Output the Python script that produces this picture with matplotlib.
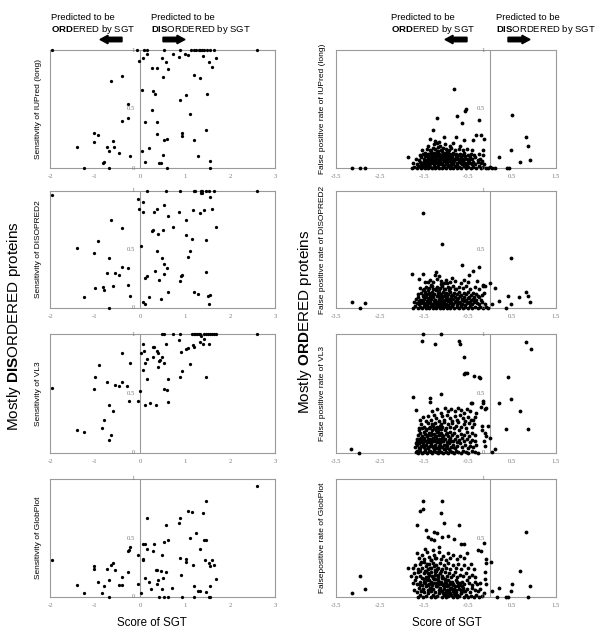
import matplotlib
matplotlib.use("Agg")
import matplotlib.pyplot as plt
from matplotlib.patches import FancyArrow

plt.rcParams['font.family'] = ['Liberation Sans', 'DejaVu Sans']
plt.rcParams['mathtext.fontset'] = 'custom'
plt.rcParams['mathtext.rm'] = 'Liberation Sans'
plt.rcParams['mathtext.bf'] = 'Liberation Sans:bold'

# ---------------- data ----------------
left_xticks = [-2, -1, 0, 1, 2, 3]
right_xticks = [-3.5, -2.5, -1.5, -0.5, 0.5, 1.5]
ytick_vals = [0, 0.5, 1]
ytick_labels = ['0', '0.5', '1']

left_ylabels = ['Sensitivity of IUPred (long)', 'Sensitivity of DISOPRED2',
                'Sensitivity of VL3', 'Sensitivity of GlobPlot']
right_ylabels = ['False positive rate of IUPred (long)', 'False positive rate of DISOPRED2',
                 'False positive rate of VL3', 'Falsepositive rate of GlobPlot']

# Mostly disordered proteins: (SGT score, sensitivity)
iupred_sens = [
    (-1.96, 1.0), (-0.06, 1.0), (0.09, 1.0), (0.16, 1.0), (0.54, 1.0), (0.89, 1.0), (1.14, 1.0),
    (1.19, 1.0), (1.25, 1.0), (1.30, 1.0), (1.34, 1.0), (1.38, 1.0), (1.43, 1.0), (1.49, 1.0),
    (1.55, 1.0), (1.65, 1.0), (2.60, 1.0), (0.16, 0.97), (0.73, 0.97), (1.01, 0.97), (1.06, 0.96),
    (0.07, 0.93), (0.49, 0.93), (0.57, 0.90), (-0.02, 0.91), (0.87, 0.94), (1.39, 0.95), (1.69, 0.93),
    (1.54, 0.90), (1.60, 0.86), (0.26, 0.85), (0.37, 0.85), (0.63, 0.84), (-0.41, 0.78), (-0.65, 0.74),
    (0.50, 0.77), (1.19, 0.79), (1.34, 0.76), (0.04, 0.66), (0.28, 0.65), (0.34, 0.63), (1.02, 0.62),
    (1.48, 0.63), (0.89, 0.58), (-0.27, 0.54), (0.27, 0.49), (1.10, 0.46), (-0.26, 0.42), (-0.41, 0.40),
    (0.10, 0.39), (0.38, 0.39), (-1.03, 0.30), (-0.94, 0.28), (0.37, 0.29), (0.93, 0.30), (0.93, 0.27),
    (1.46, 0.32), (-1.02, 0.22), (-0.61, 0.23), (0.54, 0.24), (0.59, 0.25), (1.20, 0.24), (-1.40, 0.18),
    (-0.74, 0.18), (-0.57, 0.18), (0.21, 0.17), (-0.70, 0.14), (-0.47, 0.13), (0.05, 0.14), (-0.23, 0.10),
    (0.52, 0.11), (1.28, 0.10), (-0.82, 0.04), (-0.79, 0.05), (0.11, 0.05), (0.43, 0.04), (0.47, 0.04),
    (1.55, 0.06), (-1.24, 0.0), (-0.70, 0.0), (0.61, 0.0), (1.55, 0.0)]

disopred_sens = [
    (-1.96, 0.97), (0.15, 1.0), (0.58, 1.0), (0.89, 1.0), (1.20, 1.0), (1.23, 1.0), (1.35, 1.0),
    (1.38, 1.0), (1.47, 1.0), (1.53, 1.0), (1.65, 1.0), (2.61, 1.0), (1.35, 0.98), (1.38, 0.98),
    (-0.04, 0.93), (0.07, 0.91), (0.54, 0.88), (1.55, 0.95), (-0.03, 0.85), (0.07, 0.82), (0.30, 0.82),
    (0.38, 0.85), (0.86, 0.82), (1.18, 0.84), (1.34, 0.81), (1.42, 0.84), (1.59, 0.85), (0.63, 0.79),
    (1.02, 0.75), (-0.64, 0.75), (-0.40, 0.68), (0.26, 0.66), (0.28, 0.67), (0.39, 0.63), (0.50, 0.67),
    (0.73, 0.69), (1.68, 0.69), (1.02, 0.62), (1.15, 0.59), (1.47, 0.58), (-0.94, 0.57), (-1.41, 0.51),
    (0.03, 0.53), (0.38, 0.49), (1.10, 0.49), (-1.03, 0.47), (1.07, 0.44), (0.49, 0.43), (-0.70, 0.43),
    (0.53, 0.38), (0.59, 0.34), (0.34, 0.32), (-0.41, 0.35), (-0.26, 0.34), (-0.73, 0.30), (-0.56, 0.30),
    (-0.47, 0.28), (1.46, 0.31), (0.93, 0.28), (0.91, 0.27), (0.54, 0.29), (0.15, 0.27), (0.12, 0.26),
    (0.42, 0.24), (0.89, 0.23), (-0.27, 0.20), (-0.59, 0.19), (-1.01, 0.17), (-0.83, 0.18), (-0.79, 0.15),
    (0.62, 0.14), (1.21, 0.14), (1.28, 0.12), (1.55, 0.11), (1.52, 0.10), (-1.25, 0.09), (-0.22, 0.10),
    (0.20, 0.09), (0.46, 0.08), (0.07, 0.05), (0.10, 0.03), (-0.70, 0.0), (1.54, 0.03)]

vl3_sens = [
    (-1.95, 0.55), (0.48, 1.0), (0.54, 1.0), (0.73, 1.0), (0.89, 1.0), (1.15, 1.0), (1.19, 1.0),
    (1.23, 1.0), (1.26, 1.0), (1.30, 1.0), (1.34, 1.0), (1.43, 1.0), (1.47, 1.0), (1.52, 1.0),
    (1.56, 1.0), (1.60, 1.0), (1.65, 1.0), (1.69, 1.0), (2.61, 1.0), (1.36, 0.98), (1.43, 0.96),
    (0.87, 0.95), (0.06, 0.92), (0.57, 0.92), (1.17, 0.91), (1.34, 0.93), (1.39, 0.92), (1.54, 0.92),
    (0.09, 0.86), (0.28, 0.89), (0.30, 0.89), (0.37, 0.86), (1.21, 0.89), (1.02, 0.87), (1.06, 0.88),
    (0.92, 0.85), (0.03, 0.84), (-0.41, 0.84), (0.39, 0.84), (0.28, 0.81), (0.48, 0.81), (0.16, 0.79),
    (0.12, 0.76), (0.45, 0.78), (0.42, 0.77), (0.54, 0.76), (-0.23, 0.76), (-0.92, 0.74), (1.10, 0.75),
    (0.39, 0.72), (0.07, 0.70), (0.94, 0.69), (-1.00, 0.64), (0.16, 0.62), (0.62, 0.62), (0.89, 0.64),
    (1.46, 0.64), (-0.73, 0.60), (-0.41, 0.60), (-0.55, 0.57), (-0.47, 0.56), (-0.28, 0.56), (-1.03, 0.54),
    (0.54, 0.54), (0.59, 0.53), (-0.01, 0.52), (-0.05, 0.44), (-0.25, 0.44), (0.63, 0.43), (0.10, 0.40),
    (0.22, 0.42), (0.36, 0.40), (-0.70, 0.40), (-0.60, 0.35), (-0.80, 0.28), (-0.84, 0.21), (-1.40, 0.19),
    (-1.24, 0.18), (-0.64, 0.15), (-0.70, 0.11)]

globplot_sens = [
    (-1.95, 0.31), (2.61, 0.94), (1.46, 0.81), (1.07, 0.73), (1.15, 0.72), (1.39, 0.71), (0.15, 0.67),
    (0.89, 0.67), (0.86, 0.63), (0.57, 0.61), (1.25, 0.54), (1.10, 0.50), (0.63, 0.48), (0.54, 0.47),
    (1.42, 0.48), (1.47, 0.48), (0.07, 0.45), (0.12, 0.45), (0.30, 0.45), (1.33, 0.41), (-0.22, 0.42),
    (-0.25, 0.40), (-0.27, 0.39), (0.15, 0.41), (0.28, 0.39), (-0.04, 0.36), (0.49, 0.36), (0.07, 0.32),
    (0.07, 0.31), (0.89, 0.33), (1.02, 0.32), (1.02, 0.30), (1.44, 0.31), (1.59, 0.31), (1.54, 0.29),
    (1.64, 0.27), (1.55, 0.26), (1.17, 0.27), (-0.61, 0.29), (-0.64, 0.27), (-1.02, 0.26), (-1.03, 0.24),
    (-0.73, 0.24), (-0.56, 0.23), (0.35, 0.23), (0.38, 0.23), (0.47, 0.22), (-0.26, 0.21), (0.58, 0.21),
    (0.91, 0.19), (-0.41, 0.17), (0.10, 0.16), (0.52, 0.16), (0.39, 0.14), (1.68, 0.15), (-0.93, 0.13),
    (-0.70, 0.14), (0.21, 0.13), (0.37, 0.11), (-0.04, 0.11), (-1.40, 0.10), (-0.47, 0.10), (-0.41, 0.10),
    (-0.81, 0.09), (1.21, 0.09), (1.55, 0.09), (0.25, 0.07), (0.49, 0.07), (0.72, 0.08), (1.28, 0.05),
    (1.34, 0.05), (1.46, 0.04), (-1.24, 0.03), (-0.84, 0.03), (0.03, 0.03), (-0.70, 0.0), (0.42, 0.0),
    (0.54, 0.0), (0.62, 0.0), (0.94, 0.0), (1.21, 0.0), (1.54, 0.0), (1.56, 0.0)]

# Mostly ordered proteins: (SGT score, false positive rate)
iupred_fpr = [
    (-3.13, 0.0), (-2.96, 0.0), (-2.83, 0.0), (-0.81, 0.67), (-0.76, 0.44), (-0.54, 0.50), (-0.56, 0.48),
    (-1.20, 0.42), (-0.64, 0.38), (-0.26, 0.41), (0.49, 0.45), (-1.30, 0.32), (-0.32, 0.28), (-0.21, 0.28),
    (-1.36, 0.25), (-1.05, 0.26), (-0.77, 0.26), (-0.58, 0.24), (-0.38, 0.24), (-0.14, 0.25), (0.81, 0.26),
    (0.87, 0.19), (0.48, 0.15), (0.92, 0.07), (0.21, 0.09), (0.68, 0.05), (-1.86, 0.09), (-0.16, 0.15),
    (-0.17, 0.11), (0.39, 0.0), (0.43, 0.0), (0.01, 0.01), (0.05, 0.0), (0.12, 0.0),
    (-1.78, 0.00), (-1.72, 0.01), (-1.67, 0.00), (-1.61, 0.02), (-1.57, 0.00), (-1.52, 0.01), (-1.48, 0.00),
    (-1.44, 0.03), (-1.40, 0.00), (-1.36, 0.01), (-1.32, 0.00), (-1.28, 0.02), (-1.24, 0.00), (-1.20, 0.01),
    (-1.16, 0.00), (-1.12, 0.03), (-1.08, 0.00), (-1.04, 0.01), (-1.00, 0.00), (-0.96, 0.02), (-0.92, 0.00),
    (-0.88, 0.01), (-0.84, 0.00), (-0.79, 0.02), (-0.75, 0.00), (-0.70, 0.01), (-0.65, 0.00), (-0.60, 0.02),
    (-0.55, 0.00), (-0.49, 0.01), (-0.44, 0.00), (-0.38, 0.01), (-0.32, 0.00), (-0.26, 0.02), (-0.20, 0.00),
    (-0.15, 0.01), (-0.09, 0.00), (-0.04, 0.00),
    (-1.74, 0.04), (-1.66, 0.03), (-1.59, 0.05), (-1.54, 0.04), (-1.49, 0.06), (-1.45, 0.05), (-1.41, 0.04),
    (-1.37, 0.06), (-1.33, 0.04), (-1.29, 0.05), (-1.25, 0.07), (-1.21, 0.04), (-1.17, 0.06), (-1.13, 0.05),
    (-1.09, 0.04), (-1.05, 0.06), (-1.01, 0.05), (-0.97, 0.04), (-0.93, 0.06), (-0.89, 0.05), (-0.85, 0.04),
    (-0.81, 0.06), (-0.76, 0.04), (-0.71, 0.05), (-0.66, 0.04), (-0.61, 0.06), (-0.56, 0.04), (-0.50, 0.05),
    (-0.45, 0.04), (-0.39, 0.05), (-0.33, 0.03), (-0.27, 0.05), (-0.21, 0.04), (-0.14, 0.03),
    (-1.69, 0.08), (-1.62, 0.07), (-1.56, 0.09), (-1.50, 0.08), (-1.46, 0.10), (-1.42, 0.08), (-1.38, 0.09),
    (-1.34, 0.08), (-1.30, 0.10), (-1.26, 0.09), (-1.22, 0.08), (-1.18, 0.10), (-1.14, 0.09), (-1.10, 0.08),
    (-1.06, 0.10), (-1.02, 0.09), (-0.98, 0.08), (-0.94, 0.10), (-0.90, 0.08), (-0.86, 0.09), (-0.82, 0.08),
    (-0.77, 0.10), (-0.72, 0.08), (-0.67, 0.09), (-0.62, 0.08), (-0.57, 0.10), (-0.52, 0.08), (-0.46, 0.09),
    (-0.40, 0.08), (-0.34, 0.09), (-0.28, 0.07), (-0.22, 0.08), (-0.18, 0.06),
    (-1.60, 0.11), (-1.53, 0.12), (-1.47, 0.13), (-1.43, 0.11), (-1.39, 0.12), (-1.35, 0.13), (-1.31, 0.11),
    (-1.27, 0.13), (-1.23, 0.12), (-1.19, 0.14), (-1.15, 0.12), (-1.11, 0.11), (-1.07, 0.13), (-1.03, 0.12),
    (-0.99, 0.11), (-0.95, 0.13), (-0.91, 0.12), (-0.87, 0.11), (-0.83, 0.13), (-0.78, 0.12), (-0.73, 0.11),
    (-0.68, 0.12), (-0.63, 0.11), (-0.58, 0.13), (-0.51, 0.11), (-0.43, 0.12), (-0.36, 0.11), (-0.25, 0.12),
    (-1.55, 0.15), (-1.44, 0.16), (-1.36, 0.15), (-1.30, 0.17), (-1.24, 0.16), (-1.18, 0.18), (-1.12, 0.15),
    (-1.06, 0.17), (-1.00, 0.16), (-0.94, 0.15), (-0.88, 0.17), (-0.80, 0.15), (-0.71, 0.16), (-0.62, 0.15),
    (-0.52, 0.16), (-0.40, 0.15), (-1.40, 0.19), (-1.28, 0.20), (-1.21, 0.21), (-1.14, 0.19), (-1.03, 0.20),
    (-0.92, 0.19), (-0.84, 0.21), (-0.69, 0.19), (-1.25, 0.23), (-1.16, 0.22)]

iupred_fpr_core = [
    (-1.63, 0.015), (-1.56, 0.025), (-1.51, 0.035), (-1.46, 0.015), (-1.43, 0.065), (-1.39, 0.025),
    (-1.35, 0.045), (-1.31, 0.075), (-1.27, 0.035), (-1.23, 0.055), (-1.19, 0.025), (-1.15, 0.075),
    (-1.11, 0.045), (-1.07, 0.025), (-1.03, 0.065), (-0.99, 0.035), (-0.95, 0.085), (-0.91, 0.025),
    (-0.87, 0.065), (-0.83, 0.035), (-0.78, 0.075), (-0.74, 0.025), (-0.69, 0.065), (-0.64, 0.035),
    (-0.59, 0.075), (-0.53, 0.025), (-0.47, 0.065), (-0.41, 0.03), (-1.48, 0.105), (-1.40, 0.115),
    (-1.32, 0.095), (-1.24, 0.105), (-1.16, 0.115), (-1.08, 0.105), (-1.00, 0.125), (-0.92, 0.105),
    (-0.84, 0.115), (-0.75, 0.095), (-0.65, 0.105), (-1.21, 0.145), (-1.09, 0.145), (-0.97, 0.14),
    (-1.33, 0.14)]

disopred_fpr = [
    (-1.52, 0.81), (-1.10, 0.55), (0.48, 0.43), (-0.63, 0.37), (-0.26, 0.35), (-0.39, 0.32), (-1.77, 0.29),
    (-1.52, 0.29), (-1.23, 0.31), (-1.61, 0.25), (-1.40, 0.22), (-0.48, 0.28), (0.01, 0.21), (0.12, 0.17),
    (-0.16, 0.20), (-0.11, 0.19), (0.42, 0.10), (0.67, 0.09), (0.81, 0.14), (0.87, 0.10), (0.92, 0.05),
    (0.48, 0.03), (0.05, 0.03), (0.21, 0.06), (0.36, 0.0), (-3.13, 0.05), (-2.96, 0.0), (-2.85, 0.04),
    (-0.75, 0.08), (-0.38, 0.08),
    (-1.76, 0.00), (-1.70, 0.02), (-1.64, 0.00), (-1.59, 0.01), (-1.55, 0.00), (-1.50, 0.02), (-1.46, 0.00),
    (-1.42, 0.01), (-1.38, 0.00), (-1.34, 0.02), (-1.30, 0.00), (-1.26, 0.01), (-1.22, 0.00), (-1.18, 0.02),
    (-1.14, 0.00), (-1.10, 0.01), (-1.06, 0.00), (-1.02, 0.02), (-0.98, 0.00), (-0.94, 0.01), (-0.90, 0.00),
    (-0.86, 0.02), (-0.81, 0.00), (-0.76, 0.01), (-0.71, 0.00), (-0.66, 0.02), (-0.61, 0.00), (-0.56, 0.01),
    (-0.50, 0.00), (-0.45, 0.02), (-0.40, 0.00), (-0.34, 0.01), (-0.28, 0.00), (-0.22, 0.01), (-0.16, 0.00),
    (-0.10, 0.01), (-0.05, 0.00),
    (-1.73, 0.05), (-1.67, 0.04), (-1.62, 0.06), (-1.57, 0.04), (-1.52, 0.05), (-1.48, 0.03), (-1.44, 0.06),
    (-1.40, 0.04), (-1.36, 0.05), (-1.32, 0.03), (-1.28, 0.06), (-1.24, 0.04), (-1.20, 0.05), (-1.16, 0.03),
    (-1.12, 0.06), (-1.08, 0.04), (-1.04, 0.05), (-1.00, 0.03), (-0.96, 0.06), (-0.92, 0.04), (-0.88, 0.05),
    (-0.83, 0.03), (-0.78, 0.06), (-0.73, 0.04), (-0.68, 0.05), (-0.63, 0.03), (-0.58, 0.06), (-0.52, 0.04),
    (-0.47, 0.05), (-0.42, 0.03), (-0.36, 0.05), (-0.30, 0.04), (-0.24, 0.03), (-0.18, 0.05), (-0.12, 0.03),
    (-1.68, 0.08), (-1.63, 0.09), (-1.58, 0.07), (-1.53, 0.10), (-1.49, 0.08), (-1.45, 0.09), (-1.41, 0.07),
    (-1.37, 0.10), (-1.33, 0.08), (-1.29, 0.09), (-1.25, 0.07), (-1.21, 0.10), (-1.17, 0.08), (-1.13, 0.09),
    (-1.09, 0.07), (-1.05, 0.10), (-1.01, 0.08), (-0.97, 0.09), (-0.93, 0.07), (-0.89, 0.10), (-0.84, 0.08),
    (-0.79, 0.09), (-0.74, 0.07), (-0.69, 0.10), (-0.64, 0.08), (-0.59, 0.09), (-0.54, 0.07), (-0.48, 0.09),
    (-0.43, 0.07), (-0.37, 0.09), (-0.31, 0.07), (-0.26, 0.09), (-0.20, 0.07),
    (-1.64, 0.12), (-1.56, 0.13), (-1.51, 0.11), (-1.47, 0.14), (-1.43, 0.12), (-1.39, 0.13), (-1.35, 0.11),
    (-1.31, 0.14), (-1.27, 0.12), (-1.23, 0.15), (-1.19, 0.11), (-1.15, 0.13), (-1.11, 0.12), (-1.07, 0.14),
    (-1.03, 0.11), (-0.99, 0.13), (-0.95, 0.12), (-0.91, 0.14), (-0.86, 0.11), (-0.81, 0.13), (-0.76, 0.12),
    (-0.70, 0.14), (-0.65, 0.11), (-0.60, 0.13), (-0.55, 0.12), (-0.49, 0.14), (-0.44, 0.11), (-0.38, 0.13),
    (-0.32, 0.12), (-0.27, 0.10), (-0.19, 0.11), (-0.14, 0.13),
    (-1.58, 0.17), (-1.50, 0.16), (-1.45, 0.18), (-1.38, 0.17), (-1.32, 0.19), (-1.26, 0.16), (-1.20, 0.18),
    (-1.14, 0.17), (-1.08, 0.19), (-1.02, 0.16), (-0.96, 0.18), (-0.90, 0.17), (-0.84, 0.19), (-0.77, 0.16),
    (-0.71, 0.18), (-0.62, 0.17), (-0.55, 0.19), (-0.46, 0.16), (-0.35, 0.18), (-0.24, 0.16), (-0.17, 0.19),
    (-1.47, 0.22), (-1.36, 0.24), (-1.29, 0.22), (-1.21, 0.25), (-1.12, 0.23), (-1.05, 0.21), (-0.99, 0.24),
    (-0.92, 0.22), (-0.86, 0.26), (-0.79, 0.23), (-0.67, 0.21), (-0.59, 0.24), (-0.51, 0.22), (-0.30, 0.23),
    (-1.17, 0.27), (-1.25, 0.28)]

disopred_fpr_core = [
    (-1.61, 0.03), (-1.55, 0.07), (-1.50, 0.045), (-1.47, 0.115), (-1.43, 0.025), (-1.39, 0.085),
    (-1.35, 0.035), (-1.32, 0.105), (-1.29, 0.015), (-1.26, 0.065), (-1.22, 0.035), (-1.19, 0.125),
    (-1.16, 0.055), (-1.13, 0.015), (-1.10, 0.095), (-1.06, 0.035), (-1.02, 0.065), (-0.99, 0.105),
    (-0.95, 0.025), (-0.91, 0.075), (-0.87, 0.035), (-0.84, 0.115), (-0.80, 0.055), (-0.76, 0.025),
    (-0.72, 0.085), (-0.67, 0.035), (-0.62, 0.065), (-0.57, 0.025), (-0.51, 0.085), (-0.45, 0.045),
    (-1.53, 0.15), (-1.41, 0.155), (-1.29, 0.165), (-1.17, 0.155), (-1.05, 0.165), (-0.93, 0.155),
    (-0.80, 0.165), (-1.34, 0.20), (-1.11, 0.205), (-0.97, 0.21)]

vl3_fpr = [
    (-1.53, 1.0), (-1.12, 1.0), (-1.54, 0.94), (-1.26, 0.92), (-0.71, 0.94), (-0.68, 0.92), (-0.59, 0.81),
    (0.81, 0.93), (0.93, 0.87), (-0.59, 0.66), (-0.56, 0.67), (-0.53, 0.67), (-0.37, 0.65), (-0.25, 0.64),
    (-0.22, 0.63), (0.42, 0.64), (-1.12, 0.50), (-1.74, 0.47), (-1.37, 0.46), (-1.36, 0.43), (0.21, 0.42),
    (0.47, 0.45), (0.68, 0.35), (0.37, 0.20), (0.87, 0.20), (-3.16, 0.03), (-2.98, 0.0), (0.0, 0.13),
    (0.12, 0.03), (0.05, 0.01), (-0.43, 0.42), (-0.40, 0.42), (-0.16, 0.44), (-0.15, 0.42), (-0.08, 0.38),
    (-0.21, 0.39), (-0.12, 0.37), (-0.05, 0.23), (-0.11, 0.17), (-0.10, 0.14), (-0.14, 0.10), (-0.12, 0.06),
    (-0.19, 0.23), (-0.18, 0.19), (-0.31, 0.34), (-0.34, 0.30), (-0.39, 0.28),
    (-1.68, 0.01), (-1.63, 0.00), (-1.59, 0.02), (-1.55, 0.00), (-1.51, 0.01), (-1.47, 0.03), (-1.43, 0.00),
    (-1.39, 0.02), (-1.35, 0.01), (-1.31, 0.00), (-1.27, 0.03), (-1.23, 0.01), (-1.19, 0.00), (-1.15, 0.02),
    (-1.11, 0.01), (-1.07, 0.00), (-1.03, 0.03), (-0.99, 0.01), (-0.95, 0.00), (-0.91, 0.02), (-0.87, 0.01),
    (-0.82, 0.00), (-0.77, 0.02), (-0.72, 0.01), (-0.66, 0.00), (-0.61, 0.02), (-0.55, 0.01), (-0.49, 0.00),
    (-0.42, 0.02), (-0.35, 0.01), (-0.27, 0.00),
    (-1.70, 0.05), (-1.66, 0.07), (-1.61, 0.04), (-1.57, 0.06), (-1.53, 0.08), (-1.49, 0.05), (-1.45, 0.07),
    (-1.41, 0.04), (-1.37, 0.06), (-1.33, 0.08), (-1.29, 0.05), (-1.25, 0.07), (-1.21, 0.04), (-1.17, 0.06),
    (-1.13, 0.08), (-1.09, 0.05), (-1.05, 0.07), (-1.01, 0.04), (-0.97, 0.06), (-0.93, 0.08), (-0.89, 0.05),
    (-0.84, 0.07), (-0.79, 0.04), (-0.74, 0.06), (-0.69, 0.08), (-0.63, 0.05), (-0.57, 0.07), (-0.51, 0.04),
    (-0.45, 0.06), (-0.38, 0.05), (-0.31, 0.07),
    (-1.67, 0.10), (-1.62, 0.12), (-1.58, 0.09), (-1.54, 0.11), (-1.50, 0.13), (-1.46, 0.10), (-1.42, 0.12),
    (-1.38, 0.09), (-1.34, 0.11), (-1.30, 0.13), (-1.26, 0.10), (-1.22, 0.12), (-1.18, 0.09), (-1.14, 0.11),
    (-1.10, 0.13), (-1.06, 0.10), (-1.02, 0.12), (-0.98, 0.09), (-0.94, 0.11), (-0.90, 0.13), (-0.85, 0.10),
    (-0.80, 0.12), (-0.75, 0.09), (-0.70, 0.11), (-0.64, 0.13), (-0.58, 0.10), (-0.52, 0.12), (-0.46, 0.09),
    (-0.40, 0.11), (-0.33, 0.10),
    (-1.64, 0.15), (-1.60, 0.17), (-1.55, 0.14), (-1.51, 0.18), (-1.47, 0.16), (-1.43, 0.14), (-1.39, 0.17),
    (-1.35, 0.15), (-1.31, 0.19), (-1.27, 0.16), (-1.23, 0.14), (-1.19, 0.18), (-1.15, 0.15), (-1.11, 0.17),
    (-1.07, 0.14), (-1.03, 0.19), (-0.99, 0.16), (-0.95, 0.14), (-0.91, 0.18), (-0.86, 0.15), (-0.81, 0.17),
    (-0.76, 0.14), (-0.71, 0.19), (-0.65, 0.16), (-0.59, 0.15), (-0.53, 0.18), (-0.47, 0.14), (-0.41, 0.17),
    (-0.34, 0.15),
    (-1.62, 0.21), (-1.56, 0.24), (-1.50, 0.22), (-1.45, 0.20), (-1.40, 0.25), (-1.36, 0.22), (-1.32, 0.24),
    (-1.28, 0.21), (-1.24, 0.25), (-1.20, 0.22), (-1.16, 0.20), (-1.12, 0.24), (-1.08, 0.22), (-1.04, 0.26),
    (-1.00, 0.21), (-0.96, 0.24), (-0.92, 0.22), (-0.87, 0.25), (-0.82, 0.21), (-0.77, 0.23), (-0.72, 0.26),
    (-0.66, 0.22), (-0.60, 0.24), (-0.54, 0.21), (-0.48, 0.25), (-0.42, 0.22), (-0.36, 0.24),
    (-1.58, 0.28), (-1.52, 0.30), (-1.46, 0.27), (-1.41, 0.31), (-1.34, 0.28), (-1.28, 0.32), (-1.22, 0.29),
    (-1.16, 0.27), (-1.10, 0.31), (-1.04, 0.28), (-0.98, 0.32), (-0.92, 0.29), (-0.86, 0.27), (-0.80, 0.31),
    (-0.74, 0.28), (-0.68, 0.32), (-0.62, 0.29), (-0.56, 0.27), (-0.50, 0.30), (-0.44, 0.28),
    (-1.68, 0.36), (-1.31, 0.35), (-1.20, 0.37), (-1.11, 0.34), (-1.03, 0.38), (-0.96, 0.35), (-0.88, 0.37),
    (-0.80, 0.35), (-0.73, 0.38), (-0.66, 0.36), (-0.59, 0.34), (-0.52, 0.37), (-0.46, 0.35)]

vl3_fpr_core = [
    (-1.66, 0.02), (-1.62, 0.08), (-1.58, 0.04), (-1.56, 0.13), (-1.52, 0.06), (-1.49, 0.11), (-1.48, 0.02),
    (-1.44, 0.09), (-1.42, 0.15), (-1.40, 0.05), (-1.37, 0.12), (-1.36, 0.02), (-1.33, 0.17), (-1.32, 0.06),
    (-1.29, 0.10), (-1.28, 0.02), (-1.25, 0.14), (-1.24, 0.05), (-1.21, 0.09), (-1.20, 0.18), (-1.17, 0.03),
    (-1.16, 0.12), (-1.13, 0.06), (-1.12, 0.20), (-1.09, 0.10), (-1.08, 0.15), (-1.05, 0.03), (-1.04, 0.12),
    (-1.00, 0.07), (-0.97, 0.17), (-1.61, 0.19), (-1.54, 0.21), (-1.46, 0.19), (-1.38, 0.21), (-1.30, 0.23),
    (-1.22, 0.19), (-1.14, 0.23), (-1.65, 0.12), (-1.69, 0.08), (-0.93, 0.03), (-0.88, 0.10), (-0.83, 0.05)]

globplot_fpr = [
    (-1.52, 0.81), (-1.09, 0.81), (-1.60, 0.73), (-1.53, 0.75), (-1.11, 0.71), (-1.04, 0.63), (-1.67, 0.61),
    (-0.70, 0.61), (-1.45, 0.57), (-1.27, 0.55), (-1.20, 0.54), (-1.41, 0.51), (-1.33, 0.49), (-1.28, 0.48),
    (-1.08, 0.51), (-0.95, 0.52), (-0.82, 0.49), (-0.67, 0.45), (-0.58, 0.45), (-0.13, 0.46), (0.81, 0.55),
    (-0.27, 0.40), (-0.20, 0.39), (-0.08, 0.32), (0.02, 0.30), (-0.10, 0.29), (0.68, 0.22), (0.49, 0.11),
    (0.47, 0.05), (0.92, 0.09), (0.21, 0.08), (0.05, 0.05), (-3.14, 0.03), (-2.96, 0.18), (-2.85, 0.07),
    (0.37, 0.0), (0.40, 0.0), (0.86, 0.0), (0.16, 0.0), (-0.11, 0.21), (-0.11, 0.15), (-0.10, 0.11),
    (-1.86, 0.25), (-1.67, 0.37), (-0.13, 0.03),
    (-1.64, 0.00), (-1.58, 0.02), (-1.52, 0.00), (-1.46, 0.01), (-1.40, 0.03), (-1.35, 0.00), (-1.30, 0.02),
    (-1.25, 0.00), (-1.20, 0.01), (-1.15, 0.03), (-1.10, 0.00), (-1.05, 0.02), (-1.00, 0.00), (-0.95, 0.01),
    (-0.90, 0.03), (-0.85, 0.00), (-0.80, 0.02), (-0.75, 0.00), (-0.70, 0.01), (-0.65, 0.03), (-0.60, 0.00),
    (-0.55, 0.02), (-0.49, 0.00), (-0.43, 0.01), (-0.37, 0.00), (-0.31, 0.02), (-0.25, 0.00), (-0.19, 0.01),
    (-1.72, 0.06), (-1.67, 0.04), (-1.62, 0.08), (-1.57, 0.05), (-1.53, 0.07), (-1.49, 0.04), (-1.45, 0.09),
    (-1.41, 0.06), (-1.37, 0.08), (-1.33, 0.05), (-1.29, 0.07), (-1.25, 0.04), (-1.21, 0.09), (-1.17, 0.06),
    (-1.13, 0.08), (-1.09, 0.05), (-1.05, 0.07), (-1.01, 0.04), (-0.97, 0.09), (-0.93, 0.06), (-0.89, 0.08),
    (-0.85, 0.05), (-0.81, 0.07), (-0.77, 0.04), (-0.72, 0.09), (-0.67, 0.06), (-0.62, 0.08), (-0.57, 0.05),
    (-0.52, 0.07), (-0.46, 0.04), (-0.40, 0.08), (-0.34, 0.06), (-0.28, 0.05), (-0.22, 0.07),
    (-1.75, 0.12), (-1.70, 0.14), (-1.65, 0.11), (-1.60, 0.13), (-1.55, 0.10), (-1.51, 0.15), (-1.47, 0.12),
    (-1.43, 0.14), (-1.39, 0.11), (-1.35, 0.13), (-1.31, 0.10), (-1.27, 0.15), (-1.23, 0.12), (-1.19, 0.14),
    (-1.15, 0.11), (-1.11, 0.13), (-1.07, 0.10), (-1.03, 0.15), (-0.99, 0.12), (-0.95, 0.14), (-0.91, 0.11),
    (-0.87, 0.13), (-0.83, 0.10), (-0.78, 0.14), (-0.73, 0.12), (-0.68, 0.10), (-0.63, 0.13), (-0.58, 0.11),
    (-0.53, 0.14), (-0.47, 0.12), (-0.41, 0.10), (-0.35, 0.13), (-0.29, 0.11), (-0.23, 0.12),
    (-1.80, 0.18), (-1.73, 0.20), (-1.68, 0.17), (-1.63, 0.21), (-1.58, 0.18), (-1.54, 0.16), (-1.50, 0.20),
    (-1.46, 0.22), (-1.42, 0.17), (-1.38, 0.19), (-1.34, 0.21), (-1.30, 0.16), (-1.26, 0.19), (-1.22, 0.22),
    (-1.18, 0.17), (-1.14, 0.20), (-1.10, 0.18), (-1.06, 0.16), (-1.02, 0.21), (-0.98, 0.18), (-0.94, 0.20),
    (-0.89, 0.17), (-0.84, 0.19), (-0.79, 0.21), (-0.74, 0.17), (-0.69, 0.19), (-0.62, 0.18), (-0.55, 0.20),
    (-0.48, 0.17), (-0.41, 0.19), (-0.33, 0.17),
    (-1.76, 0.25), (-1.70, 0.27), (-1.64, 0.24), (-1.59, 0.28), (-1.55, 0.25), (-1.50, 0.30), (-1.46, 0.26),
    (-1.42, 0.24), (-1.38, 0.28), (-1.34, 0.25), (-1.30, 0.29), (-1.26, 0.23), (-1.22, 0.27), (-1.18, 0.25),
    (-1.14, 0.29), (-1.10, 0.24), (-1.05, 0.27), (-1.00, 0.25), (-0.95, 0.29), (-0.90, 0.24), (-0.84, 0.27),
    (-0.78, 0.25), (-0.72, 0.28), (-0.66, 0.24), (-0.58, 0.27), (-0.50, 0.25), (-0.43, 0.28), (-0.36, 0.24),
    (-1.62, 0.33), (-1.55, 0.36), (-1.49, 0.32), (-1.44, 0.38), (-1.38, 0.34), (-1.33, 0.31), (-1.28, 0.36),
    (-1.23, 0.33), (-1.17, 0.38), (-1.12, 0.32), (-1.06, 0.35), (-1.01, 0.31), (-0.96, 0.37), (-0.90, 0.33),
    (-0.83, 0.36), (-0.75, 0.32), (-0.68, 0.35), (-0.60, 0.33), (-0.52, 0.37), (-1.47, 0.41), (-1.30, 0.40),
    (-1.15, 0.42)]

globplot_fpr_core = [
    (-1.52, 0.07), (-1.50, 0.13), (-1.48, 0.22), (-1.46, 0.17), (-1.44, 0.28), (-1.42, 0.10), (-1.40, 0.20),
    (-1.38, 0.14), (-1.36, 0.25), (-1.34, 0.08), (-1.32, 0.18), (-1.30, 0.12), (-1.28, 0.26), (-1.26, 0.21),
    (-1.24, 0.15), (-1.22, 0.09), (-1.20, 0.24), (-1.18, 0.19), (-1.16, 0.13), (-1.14, 0.07), (-1.12, 0.22),
    (-1.10, 0.16), (-1.08, 0.11), (-1.06, 0.03), (-1.04, 0.09), (-1.02, 0.13), (-1.00, 0.02), (-0.98, 0.06),
    (-0.96, 0.10), (-0.94, 0.03), (-0.92, 0.08), (-0.90, 0.13), (-0.88, 0.02), (-0.86, 0.07), (-0.84, 0.11),
    (-0.82, 0.03), (-0.80, 0.09), (-0.78, 0.06), (-0.76, 0.13), (-0.74, 0.02), (-0.71, 0.07), (-0.68, 0.12),
    (-0.66, 0.03), (-0.63, 0.09), (-0.60, 0.05), (-1.58, 0.22), (-1.60, 0.10), (-1.56, 0.30), (-1.35, 0.31),
    (-1.25, 0.33)]

left_data = [iupred_sens, disopred_sens, vl3_sens, globplot_sens]
right_data = [iupred_fpr + iupred_fpr_core, disopred_fpr + disopred_fpr_core,
              vl3_fpr + vl3_fpr_core, globplot_fpr + globplot_fpr_core]

# ---------------- layout ----------------
W, H = 600, 635
fig = plt.figure(figsize=(W / 100, H / 100), dpi=100)
fig.patch.set_facecolor('white')

rows_px = [(50, 168), (191, 308), (334, 453), (479, 597)]
left_px = (50, 275)
right_px = (336, 556)
GREY = '#9a9a9a'
TICK_GREY = '#7a7a7a'
SERIF = ['Liberation Serif', 'DejaVu Serif']


def add_ax(x0, x1, y0, y1):
    return fig.add_axes([x0 / W, 1 - y1 / H, (x1 - x0) / W, (y1 - y0) / H])


def ftext(x, y, s, **kw):
    fig.text(x / W, 1 - y / H, s, **kw)


def style_panel(ax, data, xlim, xticks, tick_fmt, msize):
    xs = [p[0] for p in data]
    ys = [p[1] for p in data]
    ax.scatter(xs, ys, s=msize, c='black', marker='o', linewidths=0, clip_on=False, zorder=3)
    ax.set_xlim(*xlim)
    ax.set_ylim(0, 1)
    for sp in ax.spines.values():
        sp.set_color(GREY)
        sp.set_linewidth(0.8)
    ax.axvline(0, color=GREY, lw=0.8, zorder=1)
    ax.set_xticks(xticks)
    ax.set_xticklabels([tick_fmt(t) for t in xticks], fontsize=4.8, color=TICK_GREY,
                       family=SERIF)
    ax.tick_params(axis='x', length=0, pad=4.5)
    ax.set_yticks([])
    off = (xlim[1] - xlim[0]) * 0.022
    for v, lab in zip(ytick_vals, ytick_labels):
        ax.text(-off, v, lab, ha='right', va='center', fontsize=4.8, color=TICK_GREY,
                family=SERIF)


for i, (y0, y1) in enumerate(rows_px):
    axl = add_ax(left_px[0], left_px[1], y0, y1)
    style_panel(axl, left_data[i], (-2, 3), left_xticks, lambda t: f'{t:d}', 5.5)
    ftext(39, (y0 + y1) / 2, left_ylabels[i], rotation=90, ha='center', va='center', fontsize=6)

    axr = add_ax(right_px[0], right_px[1], y0, y1)
    style_panel(axr, right_data[i], (-3.5, 1.5), right_xticks, lambda t: f'{t:.1f}', 7.5)
    ftext(322, (y0 + y1) / 2, right_ylabels[i], rotation=90, ha='center', va='center', fontsize=6)

# big side labels
ftext(14, 326, r'Mostly $\mathbf{DIS}$ORDERED proteins', rotation=90, ha='center', va='center',
      fontsize=11)
ftext(305, 322, r'Mostly $\mathbf{ORD}$ERED proteins', rotation=90, ha='center', va='center',
      fontsize=11)

# bottom axis titles
ftext(152, 623, 'Score of SGT', ha='center', va='center', fontsize=8.3)
ftext(447, 623, 'Score of SGT', ha='center', va='center', fontsize=8.3)

# top annotations
for xo, xd in [(51, 151), (391, 496)]:
    ftext(xo, 17, 'Predicted to be', ha='left', va='center', fontsize=6.8)
    ftext(xo, 29, r'$\mathbf{ORD}$ERED by SGT', ha='left', va='center', fontsize=6.8)
    ftext(xd, 17, 'Predicted to be', ha='left', va='center', fontsize=6.8)
    ftext(xd, 29, r'$\mathbf{DIS}$ORDERED by SGT', ha='left', va='center', fontsize=6.8)


def arrow(x_start, x_end, y):
    a = FancyArrow(x_start / 100, (H - y) / 100, (x_end - x_start) / 100, 0,
                   width=0.045, head_width=0.085, head_length=0.08,
                   length_includes_head=True, color='black',
                   transform=fig.dpi_scale_trans)
    fig.add_artist(a)


arrow(122, 100, 39.5)
arrow(163, 185, 39.5)
arrow(467, 445, 39.5)
arrow(508, 530, 39.5)

fig.savefig('out.png', dpi=100, facecolor='white')
